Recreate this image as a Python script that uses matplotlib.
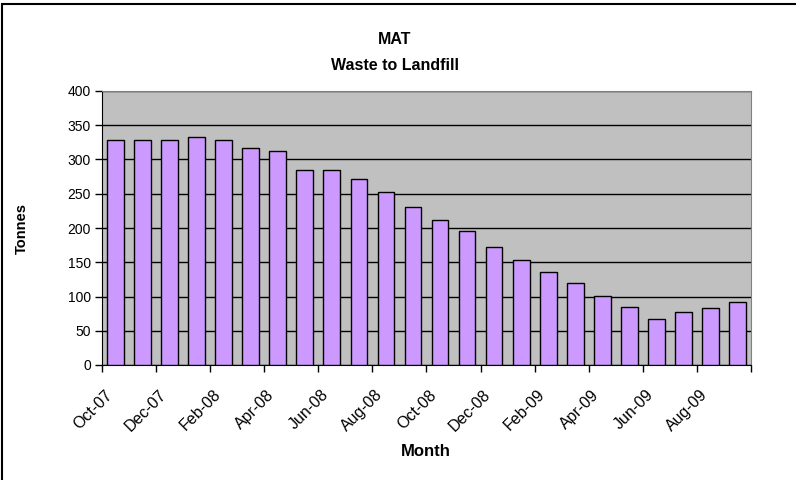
import matplotlib.pyplot as plt
from matplotlib.patches import Rectangle
from matplotlib.transforms import ScaledTranslation
import numpy as np

plt.rcParams['font.family'] = ['Liberation Sans', 'DejaVu Sans']

months = ["Oct-07", "Nov-07", "Dec-07", "Jan-08", "Feb-08", "Mar-08", "Apr-08", "May-08",
          "Jun-08", "Jul-08", "Aug-08", "Sep-08", "Oct-08", "Nov-08", "Dec-08", "Jan-09",
          "Feb-09", "Mar-09", "Apr-09", "May-09", "Jun-09", "Jul-09", "Aug-09", "Sep-09"]
tonnes = [329, 328, 329, 333, 328, 317, 312, 285, 285, 271, 253, 231,
          212, 195, 172, 154, 136, 120, 101, 85, 67, 78, 83, 92]
yticks = [0, 50, 100, 150, 200, 250, 300, 350, 400]

W, H = 796, 480
fig = plt.figure(figsize=(W / 100, H / 100), dpi=100)
ax = fig.add_axes([102 / W, 1 - 365 / H, 649 / W, 274 / H])

x = np.arange(len(months))
ax.set_facecolor('#C0C0C0')
ax.bar(x, tonnes, width=0.62, color='#CC99FF', edgecolor='black', linewidth=1, zorder=3)

ax.set_xlim(-0.5, len(months) - 0.5)
ax.set_ylim(0, 400)
ax.set_yticks(yticks)
ax.yaxis.grid(True, color='black', linewidth=1, zorder=1)
ax.set_axisbelow(True)

# ticks between every second category, labels on every second category
ax.set_xticks(np.arange(-0.5, len(months), 2))
ax.set_xticklabels([])
ax.set_xticks(x[::2], minor=True)
ax.set_xticklabels(months[::2], minor=True, rotation=45, ha='right',
                   rotation_mode='anchor', fontsize=11.5)
ax.tick_params(axis='x', which='minor', length=0, pad=8)
ax.tick_params(axis='x', which='major', length=5, width=1, direction='out')
ax.tick_params(axis='y', length=5, width=1, direction='out', labelsize=10, pad=3)

shift = ScaledTranslation(-0.11, -0.11, fig.dpi_scale_trans)
for lbl in ax.get_xticklabels(minor=True):
    lbl.set_transform(lbl.get_transform() + shift)

for s in ['top', 'right']:
    ax.spines[s].set_color('#808080')
for s in ['left', 'bottom']:
    ax.spines[s].set_color('black')

fig.text(395 / W, 1 - 40 / H, "MAT", ha='center', va='center', fontsize=11.5, fontweight='bold')
fig.text(395 / W, 1 - 65 / H, "Waste to Landfill", ha='center', va='center', fontsize=11.5, fontweight='bold')
fig.text(22 / W, 1 - 228 / H, "Tonnes", ha='center', va='center', rotation=90,
         fontsize=10.5, fontweight='bold')
fig.text(426 / W, 1 - 452 / H, "Month", ha='center', va='center', fontsize=12, fontweight='bold')

# chart frame (only top and left edges are visible in the crop)
fig.patches.append(Rectangle((1.5 / W, -0.1), 1.2, 1.1 - 4.5 / H, transform=fig.transFigure,
                             fill=False, edgecolor='black', linewidth=1.5))

fig.savefig("out.png", dpi=100)
